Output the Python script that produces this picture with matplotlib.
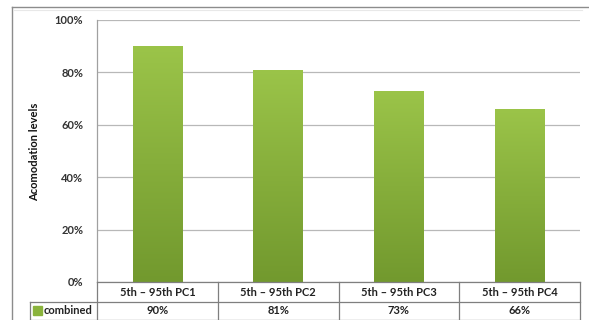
import matplotlib
matplotlib.use("Agg")
import matplotlib.pyplot as plt
import numpy as np
from matplotlib.colors import LinearSegmentedColormap
from matplotlib.lines import Line2D
from matplotlib.patches import Rectangle

categories = ["5th \u2013 95th PC1", "5th \u2013 95th PC2", "5th \u2013 95th PC3", "5th \u2013 95th PC4"]
values = [90, 81, 73, 66]
series_name = "combined"
yticks = [0, 20, 40, 60, 80, 100]
ylabel = "Acomodation levels"

plt.rcParams['font.family'] = ['Lato', 'DejaVu Sans']

W, H = 589, 320
fig = plt.figure(figsize=(W / 100, H / 100), dpi=100)
fig.patch.set_facecolor("white")

def fx(px):
    return px / W

def fy(py):
    return 1 - py / H

L, R, T, B = 97, 580, 20, 282
ax = fig.add_axes([fx(L), fy(B), fx(R) - fx(L), fy(T) - fy(B)])
x = np.arange(len(categories))

for s in ax.spines.values():
    s.set_visible(False)
ax.spines["left"].set_visible(True)
ax.spines["left"].set_color("#a0a0a0")
ax.spines["left"].set_linewidth(0.9)
ax.set_xticks([])
ax.set_yticks(yticks)
ax.set_yticklabels([f"{v}%" for v in yticks], fontsize=8, fontweight="bold", color="#333333")
ax.tick_params(axis="y", length=0, pad=10)
for v in yticks:
    ax.axhline(v, color="#b8b8b8", lw=0.9, zorder=0)

cmap = LinearSegmentedColormap.from_list("g", ["#72992e", "#86ae3b", "#9bc449"])
grad = np.linspace(0, 1, 256).reshape(-1, 1)
bars = ax.bar(x, values, width=0.41, color="#8ab33c", zorder=2)
for b in bars:
    x0, w, h = b.get_x(), b.get_width(), b.get_height()
    im = ax.imshow(grad, extent=[x0, x0 + w, 0, h], origin="lower", cmap=cmap,
                   aspect="auto", zorder=3)
    im.set_clip_path(b)
ax.set_xlim(-0.5, len(categories) - 0.5)
ax.set_ylim(0, 100)

fig.text(fx(35), fy(152), ylabel, rotation=90, ha="center", va="center",
         fontsize=8, fontweight="bold", color="#111111")

# outer chart frame
fc = "#8c8c8c"
fig.add_artist(Line2D([fx(12), fx(589)], [fy(7), fy(7)], color=fc, lw=1.0))
fig.add_artist(Line2D([fx(12), fx(12)], [fy(7), fy(320)], color=fc, lw=1.0))
fig.add_artist(Line2D([fx(14), fx(582)], [fy(10), fy(10)], color="#e8e8e8", lw=0.8))

# data table
tc = "#7f7f7f"
r1, r2, r3 = 282, 302, 321
col_edges = [L + (R - L) * i / len(categories) for i in range(len(categories) + 1)]
fig.add_artist(Line2D([fx(L), fx(R)], [fy(r1), fy(r1)], color=tc, lw=0.9))
fig.add_artist(Line2D([fx(30), fx(R)], [fy(r2), fy(r2)], color=tc, lw=0.9))
fig.add_artist(Line2D([fx(30), fx(R)], [fy(r3 - 1.5), fy(r3 - 1.5)], color=tc, lw=0.9))
fig.add_artist(Line2D([fx(30), fx(30)], [fy(r2), fy(r3)], color=tc, lw=0.9))
for e in col_edges:
    fig.add_artist(Line2D([fx(e), fx(e)], [fy(r1), fy(r3)], color=tc, lw=0.9))
for i, (c, v) in enumerate(zip(categories, values)):
    cx = (col_edges[i] + col_edges[i + 1]) / 2
    fig.text(fx(cx), fy((r1 + r2) / 2), c, ha="center", va="center",
             fontsize=8, fontweight="bold", color="#222222")
    fig.text(fx(cx), fy((r2 + r3) / 2 - 1), f"{v}%", ha="center", va="center",
             fontsize=8, fontweight="bold", color="#222222")
fig.add_artist(Rectangle((fx(33), fy(315)), fx(9), fy(306) - fy(315), color="#8ab33c"))
fig.text(fx(44), fy((r2 + r3) / 2 - 1), series_name, ha="left", va="center",
         fontsize=8, fontweight="bold", color="#222222")

fig.savefig("out.png", dpi=100, facecolor="white")
